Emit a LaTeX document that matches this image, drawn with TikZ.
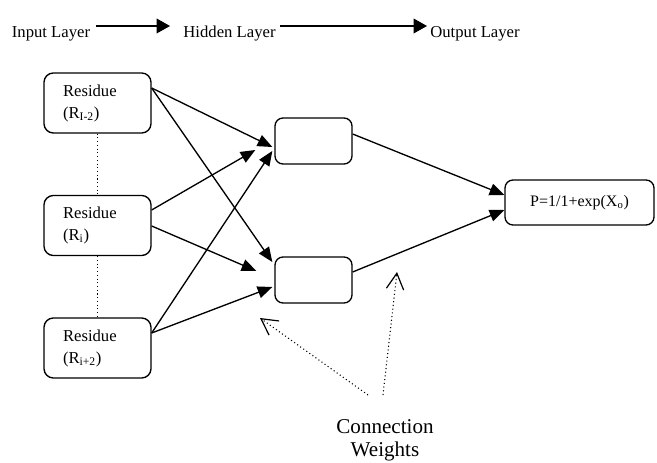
\documentclass[tikz,border=0pt]{standalone}
\usepackage{fontspec}
\setmainfont{Liberation Serif}
\usetikzlibrary{arrows.meta,calc}
\tikzset{
  inbox/.style={draw, line width=1pt, rounded corners=7pt, minimum width=80.25pt, minimum height=45pt,
    text width=51.75pt, inner xsep=14.25pt, align=left, font=\fontsize{12.5}{16.5}\selectfont},
  hidbox/.style={draw, line width=1pt, rounded corners=6pt, minimum width=57.75pt, minimum height=34.5pt},
  outbox/.style={draw, line width=1pt, rounded corners=6pt, minimum width=111.75pt, minimum height=33.75pt,
    font=\fontsize{12}{14}\selectfont},
  toplabel/.style={anchor=base, font=\fontsize{12.5}{15}\selectfont, inner sep=0pt},
  conn/.style={line width=1pt, -{Triangle[length=11pt,width=9pt]}},
  wt/.style={line width=0.8pt, dotted, -{Straight Barb[length=12pt,width=13pt,line width=0.9pt]}},
  vdot/.style={line width=0.8pt, dotted}
}
\begin{document}
\begin{tikzpicture}[x=0.75pt,y=-0.75pt]
\useasboundingbox (0,0) rectangle (657,463);
% top labels
\node[toplabel] (inl) at (51,38) {Input Layer};
\node[toplabel] (hidl) at (229.5,38) {Hidden Layer};
\node[toplabel] (outl) at (475,38) {Output Layer};
\coordinate (a1s) at (96,26);
\coordinate (a1e) at (170,26);
\coordinate (a2s) at (280,26);
\coordinate (a2e) at (427,26);
\draw[line width=1pt, -{Triangle[length=10pt,width=11pt]}] (a1s) -- (a1e);
\draw[line width=1pt, -{Triangle[length=10pt,width=11pt]}] (a2s) -- (a2e);
% input nodes
\node[inbox] (i1) at (97.5,103) {Residue\\(R\textsubscript{I-2})};
\node[inbox] (i2) at (97.5,225.5) {Residue\\(R\textsubscript{i})};
\node[inbox] (i3) at (97.5,348) {Residue\\(R\textsubscript{i+2})};
\draw[vdot] (i1.south) -- (i2.north);
\draw[vdot] (i2.south) -- (i3.north);
% hidden nodes
\node[hidbox] (h1) at (313.5,141) {};
\node[hidbox] (h2) at (313.5,280) {};
% output node
\node[outbox] (o) at (579.5,202.5) {P=1/1+exp(X\textsubscript{o})};
% connections input -> hidden
\draw[conn] ($(i1.east)+(0,-15)$) -- ($(h1.west)+(-2,6)$);
\draw[conn] ($(i1.east)+(0,-15)$) -- ($(h2.west)+(-2,-18)$);
\draw[conn] ($(i2.east)+(0,-15.5)$) -- ($(h1.west)+(-19,9)$);
\draw[conn] ($(i2.east)+(0,0.5)$) -- ($(h2.west)+(-18,-9)$);
\draw[conn] ($(i3.east)+(0,-15)$) -- ($(h1.west)+(-2,10)$);
\draw[conn] ($(i3.east)+(0,-15)$) -- ($(h2.west)+(-2,7)$);
% hidden -> output
\draw[conn] ($(h1.east)+(0,-7)$) -- ($(o.west)+(0,-7.5)$);
\draw[conn] ($(h2.east)+(0,-8)$) -- ($(o.west)+(0,7.5)$);
% connection weights
\node[font=\fontsize{15.8}{17}\selectfont, align=center, anchor=base] (cw) at (385,456) {Connection\\Weights};
\coordinate (cw1) at (368,395);
\coordinate (cw2) at (383,395);
\coordinate (w1) at (260,318);
\coordinate (w2) at (397,272);
\draw[wt] (cw1) -- (w1);
\draw[wt] (cw2) -- (w2);
\end{tikzpicture}
\end{document}
